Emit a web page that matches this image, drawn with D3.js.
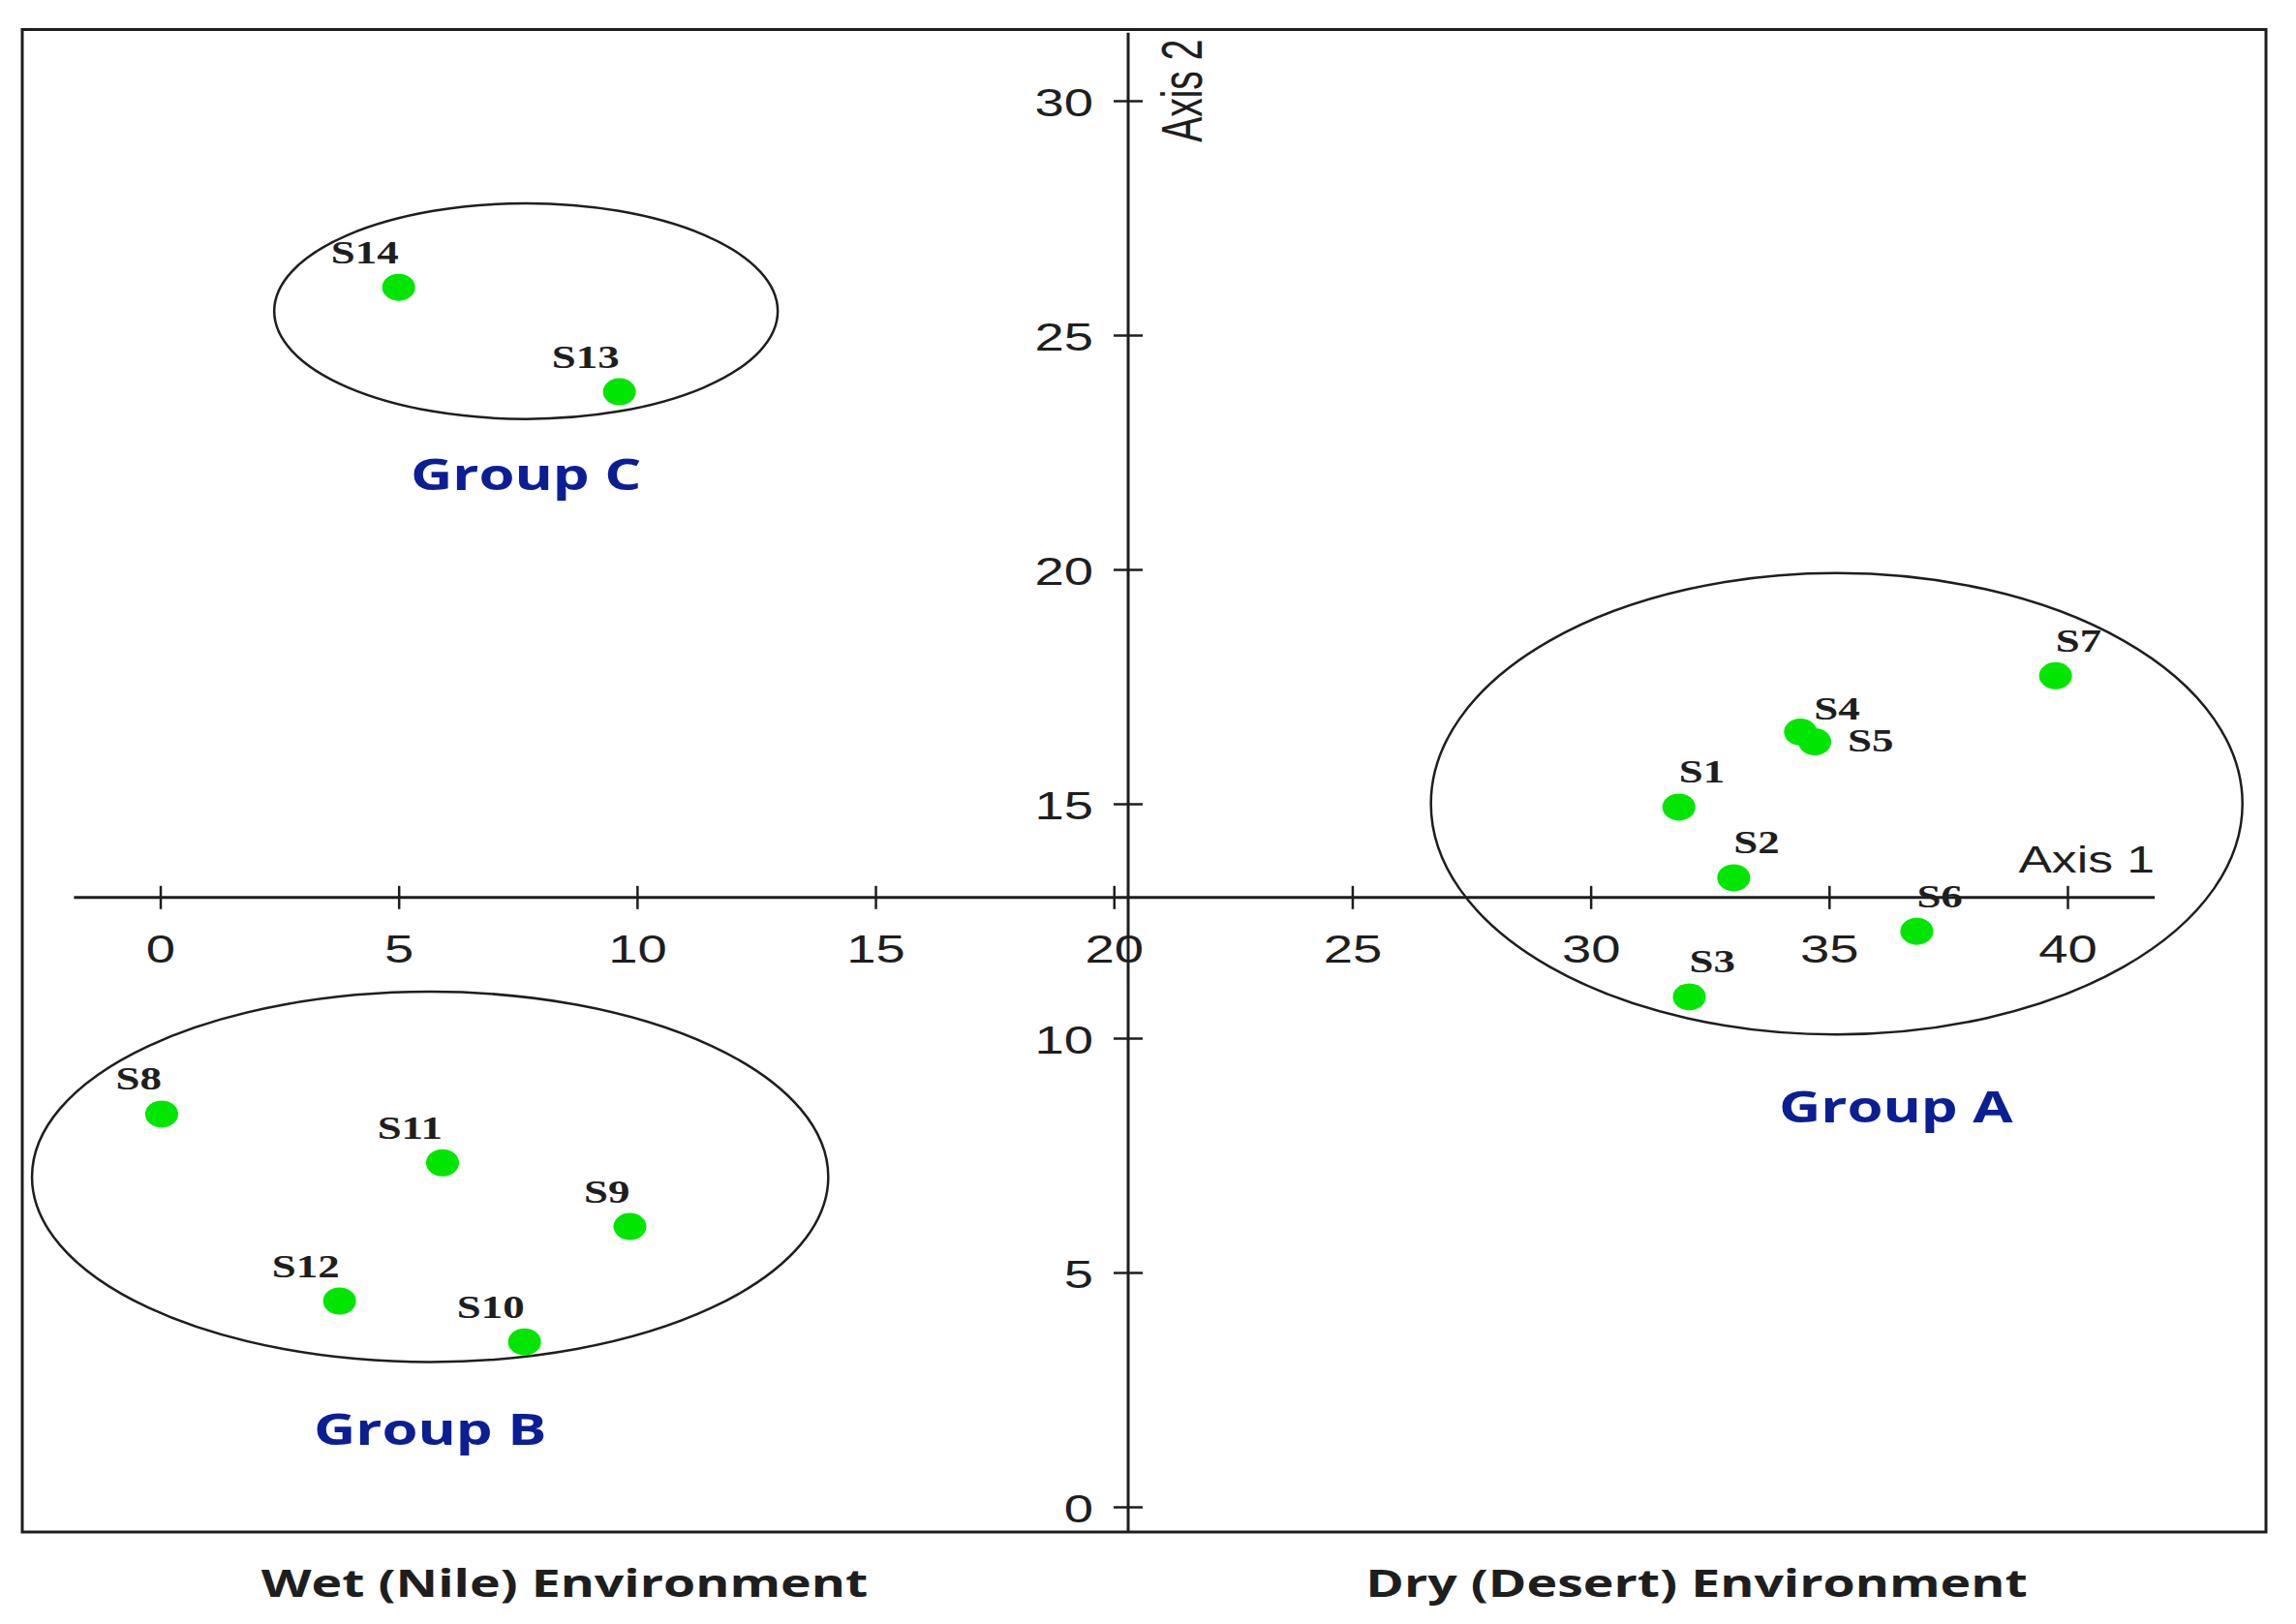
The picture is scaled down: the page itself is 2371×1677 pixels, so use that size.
<!DOCTYPE html>
<html>
<head>
<meta charset="utf-8">
<script src="https://cdn.jsdelivr.net/npm/d3@7"></script>
<style>
  body { margin: 0; background: #fff; }
  svg { display: block; }
</style>
</head>
<body>
<svg id="chart"></svg>
<script>
// site scores on the two ordination axes
const sites = ['S1', 'S2', 'S3', 'S4', 'S5', 'S6', 'S7', 'S8', 'S9', 'S10', 'S11', 'S12', 'S13', 'S14'];
const axis1 = [31.85, 33.0, 32.07, 34.4, 34.7, 36.84, 39.75, 0.03, 9.85, 7.64, 5.92, 3.76, 9.63, 5.0];
const axis2 = [14.93, 13.42, 10.88, 16.53, 16.32, 12.28, 17.73, 8.38, 5.98, 3.52, 7.34, 4.39, 23.79, 26.02];
const siteGroup = ['A', 'A', 'A', 'A', 'A', 'A', 'A', 'B', 'B', 'B', 'B', 'B', 'C', 'C'];

// group ellipses, in axis units
const groups = ['A', 'B', 'C'];
const groupNames = ['Group A', 'Group B', 'Group C'];
const groupCx = [35.16, 5.66, 7.67];
const groupCy = [15.0, 7.04, 25.51];
const groupRx = [8.51, 8.35, 5.28];
const groupRy = [4.92, 3.95, 2.3];

const xTicks = [0, 5, 10, 15, 20, 25, 30, 35, 40];
const yTicks = [0, 5, 10, 15, 20, 25, 30];
const envLabels = ['Wet (Nile) Environment', 'Dry (Desert) Environment'];

const width = 2371;
const height = 1677;
const S = 1.36; // the picture is stretched sideways, text too
const ink = '#1e1e1e';

const svg = d3.select('#chart')
  .attr('width', width)
  .attr('height', height);

const x = d3.scaleLinear().domain([0, 40]).range([165.5, 2135]);
const y = d3.scaleLinear().domain([0, 30]).range([1556, 104]);

const box = { left: 23, top: 30.5, right: 2340, bottom: 1582 };

function txt(sel, s, px, py, o = {}) {
  return sel.append('text')
    .attr('transform', `translate(${px},${py}) scale(${o.sx || S},1)${o.rot ? ' rotate(-90)' : ''}`)
    .attr('text-anchor', o.anchor || 'start')
    .attr('fill', o.fill || ink)
    .style('font-family', o.family || 'Liberation Sans, Arial, sans-serif')
    .style('font-size', `${o.size || 40}px`)
    .style('font-weight', o.weight || 'normal')
    .text(s);
}

// frame
svg.append('rect')
  .attr('x', box.left)
  .attr('y', box.top)
  .attr('width', box.right - box.left)
  .attr('height', box.bottom - box.top)
  .attr('fill', 'none')
  .attr('stroke', ink)
  .attr('stroke-width', 3);

// axes cross at (20.3, 13)
const xCross = 20.3;
const yCross = 13;

const gx = svg.append('g')
  .attr('transform', `translate(0,${y(yCross)})`)
  .call(d3.axisBottom(x).tickValues(xTicks).tickSize(12).tickPadding(0));
gx.select('.domain').remove();
gx.selectAll('.tick line').attr('y1', -12).attr('y2', 12).attr('stroke', ink).attr('stroke-width', 2.5);
gx.selectAll('.tick text')
  .attr('y', 67).attr('dy', null)
  .attr('transform', `scale(${S},1)`)
  .attr('fill', ink)
  .style('font-family', 'Liberation Sans, Arial, sans-serif')
  .style('font-size', '40px');

const gy = svg.append('g')
  .attr('transform', `translate(${x(xCross)},0)`)
  .call(d3.axisLeft(y).tickValues(yTicks).tickSize(15).tickPadding(0));
gy.select('.domain').remove();
gy.selectAll('.tick line').attr('x1', -15).attr('x2', 15).attr('stroke', ink).attr('stroke-width', 2.5);
gy.selectAll('.tick text')
  .attr('x', -36 / S).attr('y', 15).attr('dy', null)
  .attr('transform', `scale(${S},1)`)
  .attr('fill', ink)
  .style('font-family', 'Liberation Sans, Arial, sans-serif')
  .style('font-size', '40px');

// axis lines
svg.append('line')
  .attr('x1', x(-1.81)).attr('x2', x(41.83))
  .attr('y1', y(yCross)).attr('y2', y(yCross))
  .attr('stroke', ink).attr('stroke-width', 3);
svg.append('line')
  .attr('x1', x(xCross)).attr('x2', x(xCross))
  .attr('y1', y(31.45)).attr('y2', box.bottom)
  .attr('stroke', ink).attr('stroke-width', 3);

txt(svg, 'Axis 1', x(41.83), y(yCross) - 26, { anchor: 'end', size: 38 });
txt(svg, 'Axis 2', x(xCross) + 76, y(31.45) + 113, { rot: true, size: 39, sx: 1.5 });

// group ellipses
const gEll = svg.append('g');
groups.forEach((g, i) => {
  gEll.append('ellipse')
    .attr('cx', x(groupCx[i]))
    .attr('cy', y(groupCy[i]))
    .attr('rx', x(groupCx[i] + groupRx[i]) - x(groupCx[i]))
    .attr('ry', y(groupCy[i]) - y(groupCy[i] + groupRy[i]))
    .attr('fill', 'none')
    .attr('stroke', ink)
    .attr('stroke-width', 2.5);
});

// group names sit under their ellipse
const groupLabelShift = { A: [61, 91], B: [0, 86], C: [0, 73] };
groups.forEach((g, i) => {
  const bottom = y(groupCy[i] - groupRy[i]);
  txt(svg, groupNames[i], x(groupCx[i]) + groupLabelShift[g][0], bottom + groupLabelShift[g][1], {
    anchor: 'middle', size: 44, weight: 'bold', fill: '#0b1e94',
    family: 'Open Sans, sans-serif'
  });
});

// points
const pts = sites.map((s, i) => ({ name: s, x: axis1[i], y: axis2[i], group: siteGroup[i] }));

svg.append('g')
  .selectAll('ellipse')
  .data(pts)
  .enter()
  .append('ellipse')
  .attr('cx', d => x(d.x))
  .attr('cy', d => y(d.y))
  .attr('rx', 17)
  .attr('ry', 14)
  .attr('fill', '#00e600');

// site labels: group A to the right of the dot, others to the left
const labelShift = { S4: [14, 13], S5: [34, -10] };
const gLab = svg.append('g');
pts.forEach(d => {
  const sh = labelShift[d.name] || [0, 25];
  txt(gLab, d.name, x(d.x) + sh[0], y(d.y) - sh[1], {
    anchor: d.group === 'A' ? 'start' : 'end',
    size: 33, weight: 'bold',
    family: 'Liberation Serif, Times New Roman, serif'
  });
});

// environment captions
txt(svg, envLabels[0], 583, 1649, { anchor: 'middle', size: 40, weight: 'bold', sx: 1.34, family: 'Open Sans, sans-serif' });
txt(svg, envLabels[1], 1752, 1649, { anchor: 'middle', size: 40, weight: 'bold', sx: 1.34, family: 'Open Sans, sans-serif' });
</script>
</body>
</html>
